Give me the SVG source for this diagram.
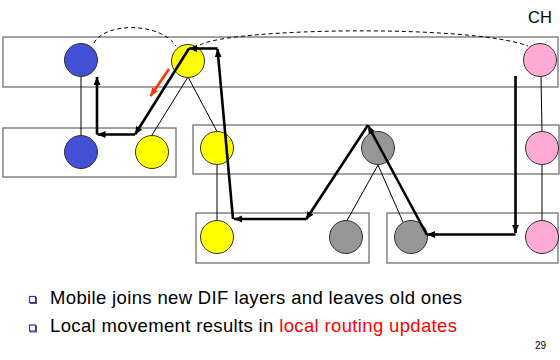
<svg xmlns="http://www.w3.org/2000/svg" width="560" height="360" viewBox="0 0 560 360">
  <style>
    .layer { fill: none; stroke: #707070; stroke-width: 1.3; }
    .node { stroke: #333; stroke-width: 1; }
    .blue { fill: #4451d6; }
    .yellow { fill: #ffff00; }
    .gray { fill: #969696; }
    .pink { fill: #ffaad5; }
    .link { stroke: #000; stroke-width: 1; fill: none; }
    .dash { stroke: #000; stroke-width: 1; fill: none; stroke-dasharray: 4 3; }
    .hop { stroke: #000; stroke-width: 2.6; fill: none; marker-end: url(#head); }
    .move { stroke: #ff3300; stroke-width: 2.6; fill: none; marker-end: url(#redhead); }
    .txt { font-family: "Liberation Sans", Arial, sans-serif; fill: #000; }
    .bullet { fill: #fff; stroke: #3333cc; stroke-width: 1.2; }
    .bshadow { fill: none; stroke: #555; stroke-width: 1; }
  </style>
  <defs>
    <marker id="head" markerUnits="userSpaceOnUse" markerWidth="9" markerHeight="8" refX="8" refY="3.5" orient="auto">
      <path d="M0,0 L8,3.5 L0,7 Z" fill="#000"/>
    </marker>
    <marker id="redhead" markerUnits="userSpaceOnUse" markerWidth="9" markerHeight="8" refX="8" refY="3.5" orient="auto">
      <path d="M0,0 L8,3.5 L0,7 Z" fill="#ff3300"/>
    </marker>
  </defs>

  <rect width="560" height="360" fill="#fff"/>

  <!-- DIF layers -->
  <g id="layers">
    <rect id="layer-top" class="layer" x="3" y="37" width="555" height="50"/>
    <rect id="layer-mid-left" class="layer" x="3" y="128" width="173" height="49"/>
    <rect id="layer-mid-right" class="layer" x="193" y="125" width="366" height="49"/>
    <rect id="layer-bottom-left" class="layer" x="196" y="213" width="173" height="50"/>
    <rect id="layer-bottom-right" class="layer" x="387" y="213" width="171" height="50"/>
  </g>

  <!-- thin adjacency links and dashed flows (behind the nodes) -->
  <g id="connectors">
    <line class="link" x1="81" y1="77" x2="81" y2="135"/>
    <line class="link" x1="188" y1="77" x2="152" y2="135"/>
    <line class="link" x1="188" y1="77" x2="217" y2="131.5"/>
    <line class="link" x1="217" y1="165" x2="217" y2="220.5"/>
    <line class="link" x1="378" y1="165" x2="347" y2="220.5"/>
    <line class="link" x1="378" y1="165" x2="403" y2="222"/>
    <line class="link" x1="541" y1="76" x2="542" y2="131.5"/>
    <line class="link" x1="542" y1="165" x2="542" y2="220.5"/>
    <path class="dash" d="M94,43 C105,22 160,22 176,46"/>
    <path class="dash" d="M200,45 C230,28 470,24 528,46"/>
  </g>

  <!-- nodes -->
  <g id="n-blue-top"><circle class="node blue" cx="81" cy="60" r="16.5"/></g>
  <g id="n-yellow-top"><circle class="node yellow" cx="188" cy="61" r="16.5"/></g>
  <g id="n-pink-top"><circle class="node pink" cx="540" cy="60" r="16.5"/></g>
  <g id="n-blue-mid"><circle class="node blue" cx="81" cy="152" r="16.5"/></g>
  <g id="n-yellow-mid-left"><circle class="node yellow" cx="152" cy="152" r="16.5"/></g>
  <g id="n-yellow-mid"><circle class="node yellow" cx="217" cy="148" r="16.5"/></g>
  <g id="n-gray-mid"><circle class="node gray" cx="378" cy="148" r="16.5"/></g>
  <g id="n-pink-mid"><circle class="node pink" cx="542" cy="148" r="16.5"/></g>
  <g id="n-yellow-bottom"><circle class="node yellow" cx="217" cy="237" r="16.5"/></g>
  <g id="n-gray-bottom-left"><circle class="node gray" cx="346" cy="237" r="16.5"/></g>
  <g id="n-gray-bottom-right"><circle class="node gray" cx="411" cy="237" r="16.5"/></g>
  <g id="n-pink-bottom"><circle class="node pink" cx="542" cy="237" r="16.5"/></g>

  <!-- routing path hops (drawn over the nodes) -->
  <g id="route">
    <line class="hop" x1="515.5" y1="76" x2="515.5" y2="233"/>
    <line class="hop" x1="515.5" y1="234.5" x2="427" y2="234.5"/>
    <line class="hop" x1="427" y1="235" x2="368" y2="125.5"/>
    <line class="hop" x1="368" y1="125" x2="306" y2="219.5"/>
    <line class="hop" x1="306" y1="219" x2="234" y2="219"/>
    <line class="hop" x1="233" y1="219" x2="217.5" y2="49"/>
    <line class="hop" x1="217.5" y1="48.5" x2="189" y2="48.5"/>
    <line class="hop" x1="189" y1="48.5" x2="135" y2="134.5"/>
    <line class="hop" x1="135" y1="134.5" x2="97.5" y2="134.5"/>
    <line class="hop" x1="97" y1="134.5" x2="97" y2="77"/>
    <line class="move" x1="169" y1="69" x2="150.5" y2="96"/>
  </g>

  <!-- labels -->
  <text class="txt" x="528" y="23" font-size="16.5">CH</text>

  <g id="bullets">
    <rect class="bshadow" x="30.5" y="297.5" width="6" height="6"/>
    <rect class="bullet" x="29.5" y="296.5" width="6" height="6"/>
    <rect class="bshadow" x="30.5" y="326" width="6" height="6"/>
    <rect class="bullet" x="29.5" y="325" width="6" height="6"/>
  </g>
  <text class="txt" x="50" y="304" font-size="18.5" textLength="412" lengthAdjust="spacing">Mobile joins new DIF layers and leaves old ones</text>
  <text class="txt" x="50" y="332" font-size="18.5" textLength="407" lengthAdjust="spacing">Local movement results in <tspan fill="#ff0000">local routing updates</tspan></text>
  <text class="txt" x="535" y="349" font-size="10">29</text>
</svg>
